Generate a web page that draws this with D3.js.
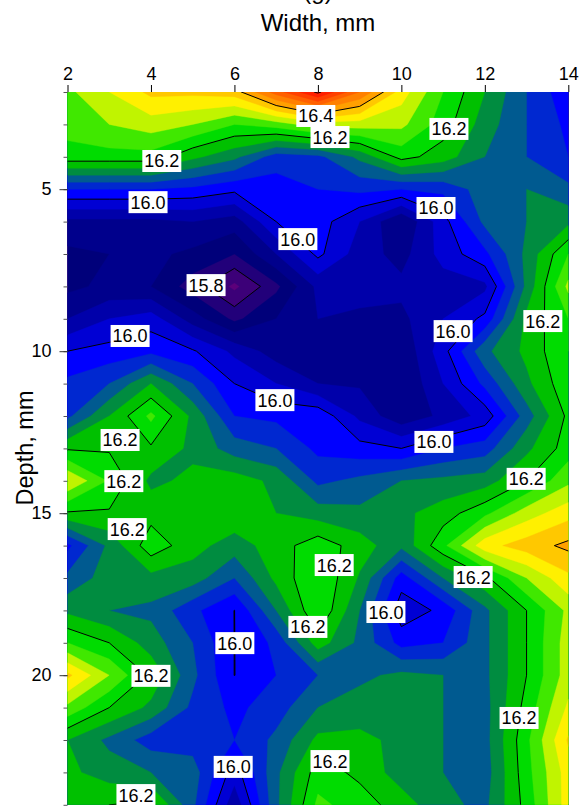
<!DOCTYPE html>
<html>
<head>
<meta charset="utf-8">
<script src="https://cdn.jsdelivr.net/npm/d3@7"></script>
<style>
  html, body { margin: 0; padding: 0; background: #fff; overflow: hidden; }
  text { font-family: "Liberation Sans", Arial, sans-serif; fill: #000; }
  .tick text { font-size: 18px; }
</style>
</head>
<body>
<svg id="chart" width="581" height="806"></svg>
<script>
// ------------------- Data -------------------
const widths = d3.range(2, 15);
const depths = d3.range(2, 25);

// one row per depth, one value per width
const grid = [
  [16.27,16.32,16.37,16.37,16.38,16.50,16.61,16.48,16.34,16.24,16.16,16.08,16.01],
  [16.255,16.28,16.30,16.28,16.24,16.26,16.30,16.30,16.29,16.22,16.14,16.08,16.03],
  [16.225,16.225,16.225,16.17,16.13,16.06,16.07,16.13,16.215,16.18,16.12,16.08,16.04],
  [16.04,16.04,16.04,16.03,16.01,16.02,16.04,16.05,16.04,16.05,16.10,16.12,16.09],
  [15.91,15.91,15.91,15.92,15.90,16.00,16.02,15.96,15.88,15.985,16.09,16.12,16.15],
  [15.87,15.88,15.89,15.87,15.84,15.92,16.01,15.94,15.905,15.975,16.03,16.13,16.24],
  [15.87,15.89,15.88,15.82,15.75,15.83,15.93,15.93,15.93,15.94,15.95,16.13,16.29],
  [15.92,15.96,15.98,15.90,15.83,15.88,15.92,15.915,15.91,15.96,16.01,16.17,16.24],
  [16.00,16.015,16.03,16.005,15.95,15.90,15.895,15.88,15.885,15.985,16.11,16.17,16.24],
  [16.05,16.08,16.16,16.08,16.00,15.96,15.92,15.915,15.88,15.96,16.05,16.15,16.23],
  [16.07,16.16,16.25,16.15,16.04,16.03,16.03,15.95,15.89,15.93,15.975,16.10,16.21],
  [16.195,16.195,16.194,16.15,16.10,16.08,16.03,16.015,16.00,16.04,16.06,16.15,16.22],
  [16.32,16.235,16.15,16.17,16.18,16.15,16.07,16.09,16.12,16.13,16.14,16.20,16.27],
  [16.195,16.195,16.185,16.18,16.19,16.16,16.14,16.13,16.15,16.18,16.23,16.30,16.345],
  [16.03,16.13,16.225,16.175,16.14,16.18,16.225,16.18,16.13,16.23,16.345,16.38,16.41],
  [16.09,16.14,16.147,16.14,16.08,16.17,16.24,16.155,16.02,16.12,16.19,16.28,16.35],
  [16.15,16.12,16.11,16.05,15.9995,16.12,16.24,16.12,15.975,16.01,16.11,16.20,16.29],
  [16.24,16.20,16.14,16.08,15.9995,16.05,16.18,16.11,16.025,16.04,16.11,16.20,16.30],
  [16.37,16.28,16.19,16.09,15.9995,16.04,16.08,16.11,16.13,16.12,16.11,16.20,16.30],
  [16.27,16.20,16.15,16.07,16.03,16.06,16.12,16.14,16.14,16.12,16.105,16.215,16.327],
  [16.16,16.11,16.06,16.06,16.04,16.09,16.17,16.17,16.15,16.12,16.105,16.23,16.365],
  [16.17,16.14,16.12,16.10,15.98,16.11,16.22,16.19,16.14,16.12,16.10,16.225,16.34],
  [16.17,16.20,16.21,16.09,15.93,16.11,16.25,16.22,16.18,16.13,16.11,16.215,16.34]
];

// filled bands: bandColors[i] starts at bandLevels[i]
const bandLevels = [15.6,15.76,15.8,15.84,15.88,15.92,15.96,16.0,16.04,16.08,16.12,16.16,16.2,16.24,16.28,16.32,16.36,16.4,16.44,16.48,16.52,16.56,16.6];
const bandColors = ["#5c007a","#3c0078","#22007a","#00007a","#00008c","#0000aa","#0000d4","#0000ff","#0028d0","#005a90","#008c40","#00c000","#00dc00","#40e800","#c0f400","#fff000","#ffc800","#ffa000","#ff8000","#ff6000","#ff4000","#ff2000","#ff0000"];

const lineLevels = [15.8, 16.0, 16.2, 16.4, 16.6];

// contour labels
const labelText = ["16.4","16.2","16.2","16.2","16.0","16.0","16.0","15.8","16.2","16.0","16.0","16.0","16.0","16.2","16.2","16.2","16.2","16.2","16.2","16.2","16.0","16.0","16.2","16.2","16.2","16.0","16.2"];
const labelWidth = [7.95,8.29,11.14,4.26,3.93,10.83,7.52,5.32,13.39,11.24,3.50,6.97,10.78,3.26,3.35,12.99,3.43,8.39,11.72,7.76,9.63,6.01,4.00,12.82,8.29,5.97,3.64];
const labelDepth = [2.74,3.39,3.14,4.13,5.40,5.58,6.54,7.96,9.07,9.38,9.53,11.51,12.80,12.74,14.01,13.94,15.49,16.60,16.97,18.51,18.05,19.01,20.02,21.32,22.65,22.83,23.70];

// ------------------- Setup -------------------
const svg = d3.select("#chart");
const x = d3.scaleLinear().domain([2, 14]).range([67.5, 568.3]);
const y = d3.scaleLinear().domain([2, 24]).range([92, 804.8]);

svg.append("defs").append("clipPath").attr("id", "plot")
  .append("rect")
    .attr("x", x(2)).attr("y", y(2))
    .attr("width", x(14) - x(2)).attr("height", y(24) - y(2));

// d3.contours puts grid node i at i + 0.5
const toPx = d3.geoTransform({
  point(cx, cy) {
    this.stream.point(x(widths[0] + cx - 0.5), y(depths[0] + cy - 0.5));
  }
});
const path = d3.geoPath(toPx);

const contours = d3.contours().size([widths.length, depths.length]);
const values = grid.flat();

// ------------------- Filled bands -------------------
const plot = svg.append("g").attr("clip-path", "url(#plot)");

plot.selectAll("path.band")
  .data(bandLevels.map((t, i) => ({ shape: contours.contour(values, t), color: bandColors[i] })))
  .join("path")
    .attr("class", "band")
    .attr("d", d => path(d.shape))
    .attr("fill", d => d.color)
    .attr("stroke", d => d.color)
    .attr("stroke-width", 0.4);

// ------------------- Contour lines -------------------
plot.selectAll("path.line")
  .data(lineLevels.map(t => contours.contour(values, t)))
  .join("path")
    .attr("class", "line")
    .attr("d", path)
    .attr("fill", "none")
    .attr("stroke", "#000")
    .attr("stroke-width", 1);

// ------------------- Labels -------------------
const labels = svg.append("g").selectAll("g")
  .data(labelText)
  .join("g")
    .attr("transform", (d, i) => `translate(${x(labelWidth[i])},${y(labelDepth[i])})`);

labels.append("rect")
  .attr("x", -19.5).attr("y", -11)
  .attr("width", 39).attr("height", 22)
  .attr("fill", "#fff");

labels.append("text")
  .attr("text-anchor", "middle")
  .attr("dy", "0.36em")
  .attr("font-size", 18)
  .text(d => d);

// ------------------- Axes -------------------
const xAxis = svg.append("g")
  .attr("transform", `translate(0,${y(2)})`)
  .call(d3.axisTop(x).tickValues(d3.range(2, 15, 2)).tickSize(7).tickPadding(5).tickFormat(d3.format("d")));
xAxis.select(".domain").remove();

const yMinor = svg.append("g")
  .attr("transform", `translate(${x(2)},0)`)
  .call(d3.axisLeft(y).tickValues(d3.range(2, 25)).tickSize(4).tickFormat(""));
yMinor.select(".domain").remove();
yMinor.selectAll("line").attr("stroke", "#555");

const yAxis = svg.append("g")
  .attr("transform", `translate(${x(2)},0)`)
  .call(d3.axisLeft(y).tickValues([5, 10, 15, 20]).tickSize(8).tickPadding(8).tickFormat(d3.format("d")));
yAxis.select(".domain").remove();
yAxis.selectAll("line").attr("stroke", "#333");

// ------------------- Titles -------------------
svg.append("text")
  .attr("x", 318).attr("y", -1)
  .attr("text-anchor", "middle")
  .attr("font-size", 24)
  .text("(g)");

svg.append("text")
  .attr("x", 318).attr("y", 31)
  .attr("text-anchor", "middle")
  .attr("font-size", 24)
  .text("Width, mm");

svg.append("text")
  .attr("transform", "translate(33,448) rotate(-90)")
  .attr("text-anchor", "middle")
  .attr("font-size", 23.5)
  .text("Depth, mm");
</script>
</body>
</html>
